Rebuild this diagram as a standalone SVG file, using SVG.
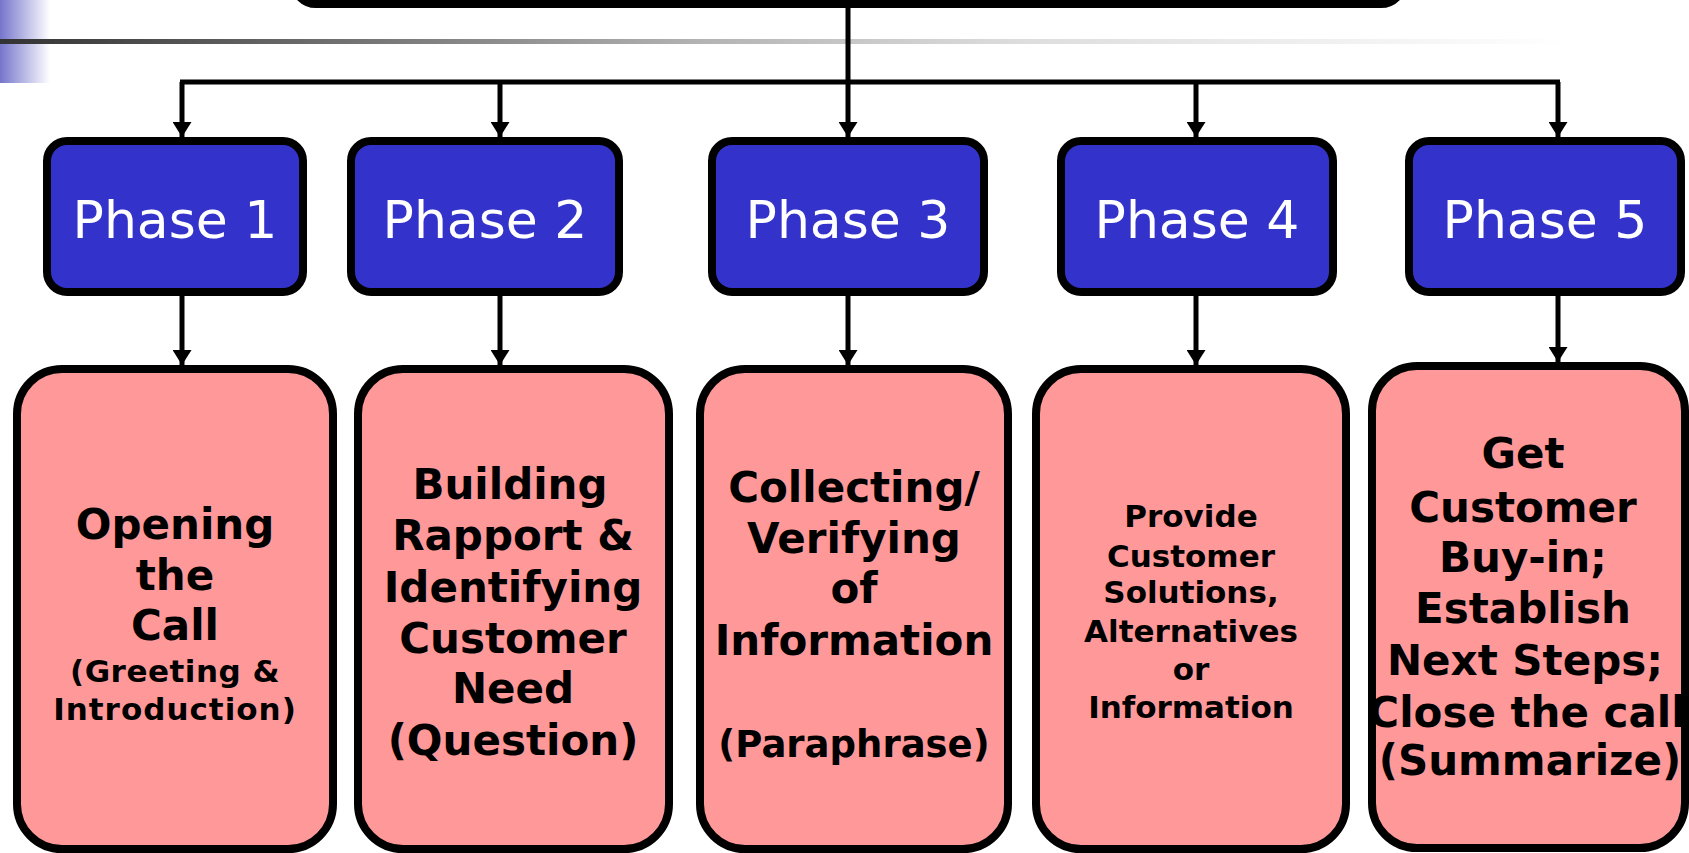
<svg xmlns="http://www.w3.org/2000/svg" width="1689" height="853" viewBox="0 0 1689 853">
<defs>
<linearGradient id="gl" x1="0" y1="0" x2="1570" y2="0" gradientUnits="userSpaceOnUse">
<stop offset="0" stop-color="#333333"/>
<stop offset="0.25" stop-color="#7a7a7a"/>
<stop offset="0.45" stop-color="#b4b4b4"/>
<stop offset="0.65" stop-color="#dddddd"/>
<stop offset="0.85" stop-color="#f0f0f0"/>
<stop offset="1" stop-color="#ffffff"/>
</linearGradient>
<linearGradient id="gb" x1="0" y1="0" x2="1" y2="0">
<stop offset="0" stop-color="#7575cc"/>
<stop offset="1" stop-color="#ffffff"/>
</linearGradient>
<marker id="ah" markerWidth="15" markerHeight="19" refX="15" refY="9.5" orient="auto" markerUnits="userSpaceOnUse">
<path d="M0,0 L15,9.5 L0,19 Z" fill="#000"/>
</marker>
<style>
.ph{fill:#3333CC;stroke:#000;stroke-width:8}
.pk{fill:#FF9999}
.ol{fill:none;stroke:#000;stroke-width:8}
.pt{font-family:"DejaVu Sans","Liberation Sans",sans-serif;font-size:52px;fill:#fff;text-anchor:middle}
.bt{font-family:"DejaVu Sans","Liberation Sans",sans-serif;font-weight:bold;font-size:42px;fill:#000;text-anchor:middle}
.st{font-size:31px}
.mt{font-size:37px}
.cn{fill:none;stroke:#000;stroke-width:5}
</style>
</defs>
<rect x="0" y="0" width="50" height="83" fill="url(#gb)"/>
<rect x="0" y="39" width="1570" height="5" fill="url(#gl)"/>
<g id="top">
<rect x="294" y="-60" width="1109" height="64" rx="22" fill="#FFFFCC" stroke="#000" stroke-width="8"/>
</g>
<g id="connectors">
<line class="cn" x1="848" y1="8" x2="848" y2="137" marker-end="url(#ah)"/>
<line class="cn" x1="180" y1="82" x2="1560" y2="82"/>
<line class="cn" x1="182" y1="82" x2="182" y2="137" marker-end="url(#ah)"/>
<line class="cn" x1="500" y1="82" x2="500" y2="137" marker-end="url(#ah)"/>
<line class="cn" x1="1196" y1="82" x2="1196" y2="137" marker-end="url(#ah)"/>
<line class="cn" x1="1558" y1="82" x2="1558" y2="137" marker-end="url(#ah)"/>
<line class="cn" x1="182" y1="296" x2="182" y2="365" marker-end="url(#ah)"/>
<line class="cn" x1="500" y1="296" x2="500" y2="365" marker-end="url(#ah)"/>
<line class="cn" x1="848" y1="296" x2="848" y2="365" marker-end="url(#ah)"/>
<line class="cn" x1="1196" y1="296" x2="1196" y2="365" marker-end="url(#ah)"/>
<line class="cn" x1="1558" y1="296" x2="1558" y2="362" marker-end="url(#ah)"/>
</g>
<g id="phase1"><rect class="ph" x="47" y="141" width="256" height="151" rx="20"/><text class="pt" x="175" y="238">Phase 1</text></g>
<g id="phase2"><rect class="ph" x="351" y="141" width="268" height="151" rx="20"/><text class="pt" x="485" y="238">Phase 2</text></g>
<g id="phase3"><rect class="ph" x="712" y="141" width="272" height="151" rx="20"/><text class="pt" x="848" y="238">Phase 3</text></g>
<g id="phase4"><rect class="ph" x="1061" y="141" width="272" height="151" rx="20"/><text class="pt" x="1197" y="238">Phase 4</text></g>
<g id="phase5"><rect class="ph" x="1409" y="141" width="272" height="151" rx="20"/><text class="pt" x="1545" y="238">Phase 5</text></g>
<g id="step1">
<rect class="pk" x="17" y="369" width="316" height="480" rx="45"/>
<text class="bt" x="175" y="539">Opening</text>
<text class="bt" x="175" y="590">the</text>
<text class="bt" x="175" y="640">Call</text>
<text class="bt st" x="175" y="682" letter-spacing="0.5">(Greeting &amp;</text>
<text class="bt st" x="175" y="720" letter-spacing="1">Introduction)</text>
<rect class="ol" x="17" y="369" width="316" height="480" rx="45"/>
</g>
<g id="step2">
<rect class="pk" x="358" y="369" width="311" height="480" rx="45"/>
<text class="bt" x="510" y="499">Building</text>
<text class="bt" x="513" y="550">Rapport &amp;</text>
<text class="bt" x="513" y="602">Identifying</text>
<text class="bt" x="513" y="653">Customer</text>
<text class="bt" x="513" y="703">Need</text>
<text class="bt" x="513" y="755">(Question)</text>
<rect class="ol" x="358" y="369" width="311" height="480" rx="45"/>
</g>
<g id="step3">
<rect class="pk" x="700" y="369" width="308" height="480" rx="45"/>
<text class="bt" x="854" y="502">Collecting/</text>
<text class="bt" x="854" y="553">Verifying</text>
<text class="bt" x="854" y="603">of</text>
<text class="bt" x="854" y="655">Information</text>
<text class="bt mt" x="854" y="757">(Paraphrase)</text>
<rect class="ol" x="700" y="369" width="308" height="480" rx="45"/>
</g>
<g id="step4">
<rect class="pk" x="1036" y="369" width="310" height="480" rx="45"/>
<text class="bt st" x="1191" y="527">Provide</text>
<text class="bt st" x="1191" y="567">Customer</text>
<text class="bt st" x="1191" y="603">Solutions,</text>
<text class="bt st" x="1191" y="642">Alternatives</text>
<text class="bt st" x="1191" y="680">or</text>
<text class="bt st" x="1191" y="718">Information</text>
<rect class="ol" x="1036" y="369" width="310" height="480" rx="45"/>
</g>
<g id="step5">
<rect class="pk" x="1372" y="366" width="313" height="482" rx="45"/>
<text class="bt" x="1523" y="468">Get</text>
<text class="bt" x="1523" y="522">Customer</text>
<text class="bt" x="1523" y="572">Buy-in;</text>
<text class="bt" x="1523" y="623">Establish</text>
<text class="bt" x="1525" y="675">Next Steps;</text>
<text class="bt" x="1527" y="727">Close the call</text>
<text class="bt" x="1530" y="775">(Summarize)</text>
<rect class="ol" x="1372" y="366" width="313" height="482" rx="45"/>
</g>
</svg>
